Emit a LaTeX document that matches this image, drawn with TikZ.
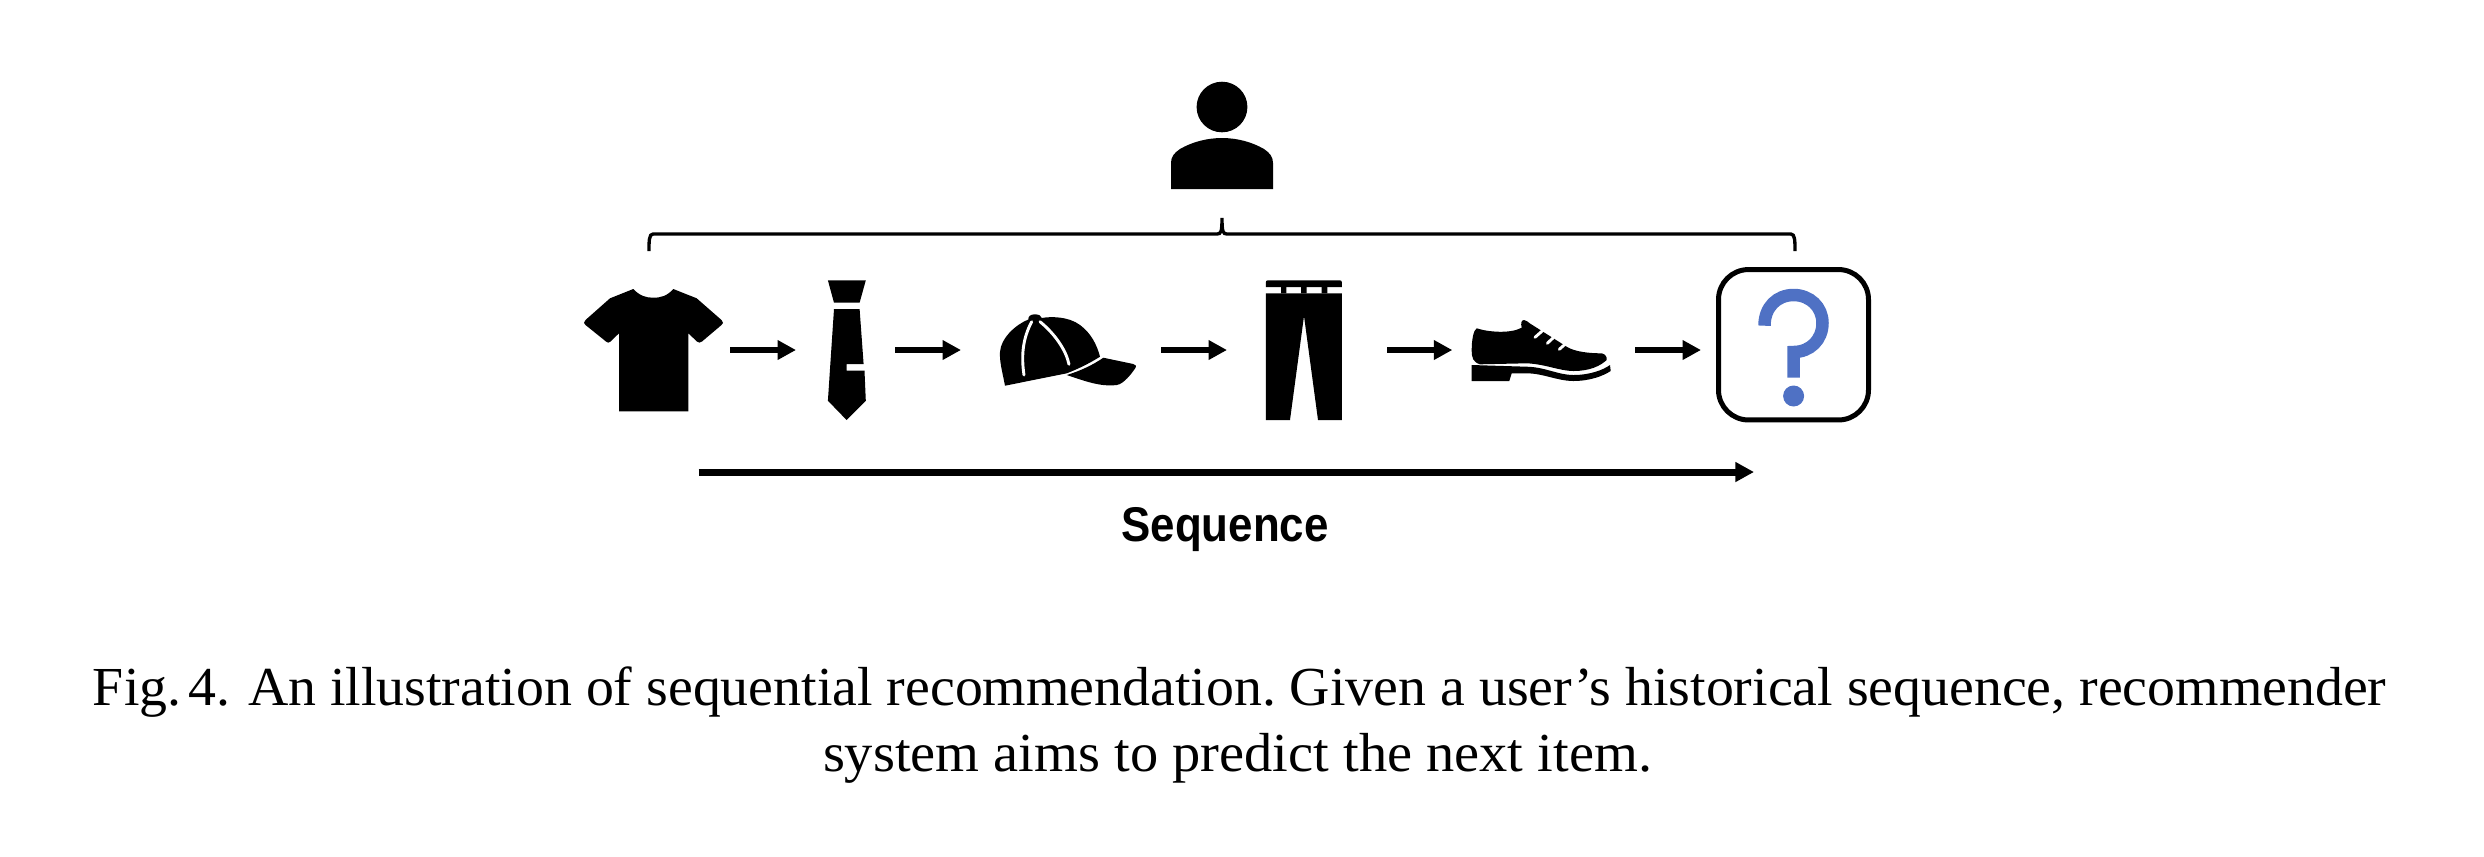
\documentclass[tikz,border=0pt]{standalone}
\usepackage{fontspec}
\usetikzlibrary{arrows.meta,fit}
\setmainfont{Liberation Serif}
\newfontfamily\capfont[FakeStretch=1.015]{Liberation Serif}
\newfontfamily\capfontb[FakeStretch=1.026]{Liberation Serif}
\newfontfamily\seqfont[FakeStretch=0.9]{Liberation Sans}
\definecolor{qblue}{HTML}{4F71C4}
\frenchspacing
\tikzset{
  slot/.style={inner sep=0pt,outer sep=0pt},
  glyph/.style={fill=black,draw=none},
  cutline/.style={draw=white,line width=0.7pt,line cap=round},
  flowarrow/.style={line width=1.6pt,-{Triangle[length=4.44pt,width=4.5pt]}},
  seqarrow/.style={line width=1.68pt,-{Triangle[length=4.5pt,width=4.56pt]}},
  bracket/.style={draw=black,line width=0.8pt},
  qboxstyle/.style={draw=black,line width=1.2pt,rounded corners=7.2pt,minimum width=36pt,minimum height=36.1pt,inner sep=0pt,outer sep=0pt},
  captext/.style={anchor=base west,inner sep=0pt,outer sep=0pt},
}
\begin{document}
\begin{tikzpicture}[x=0.24pt,y=-0.24pt]
\useasboundingbox (0,0) rectangle (2484,856);
% person
\fill[glyph] (1222,107) ellipse [x radius=25.4,y radius=25.3];
\fill[glyph] (1171,189) -- (1171,163) .. controls (1171,157) and (1174,153) .. (1180,149) .. controls (1192,142) and (1207,138) .. (1222,138) .. controls (1237,138) and (1252,142) .. (1264,149) .. controls (1270,153) and (1273,157) .. (1273,163) -- (1273,189) -- cycle;
% bracket
\draw[bracket] (649,251) .. controls (649,241) and (649,234) .. (653,234) -- (1217,234) .. controls (1221,234) and (1222,232) .. (1222,218) .. controls (1222,232) and (1223,234) .. (1227,234) -- (1791,234) .. controls (1795,234) and (1795,241) .. (1795,251);
% slots for the items
\node[slot,fit={(584,280) (730,420)}] (shirt) {};
\node[slot,fit={(796,280) (895,420)}] (tie) {};
\node[slot,fit={(961,280) (1161,420)}] (cap) {};
\node[slot,fit={(1227,280) (1387,420)}] (pants) {};
\node[slot,fit={(1452.3,280) (1635,420)}] (shoe) {};
\node[qboxstyle] (next) at (1793.5,344.75) {};
% shirt
\fill[glyph] (633.3,289) .. controls (640,296) and (646,297.7) .. (653.3,297.7) .. controls (661,297.7) and (667,296) .. (673.3,289) -- (696.7,298.3) -- (721.5,320) .. controls (723.5,322) and (723.5,324) .. (721.5,325) -- (702,341.5) .. controls (700,343) and (698.5,343) .. (697,341.5) -- (688.3,333.3) -- (688.3,411.3) -- (619,411.3) -- (619,333.3) -- (610.5,341.5) .. controls (609,343) and (607.5,343) .. (606,341.5) -- (585.5,325) .. controls (583.5,324) and (583.5,322) .. (585.5,320) -- (610,298.3) -- cycle;
% tie
\fill[glyph] (827.9,280.3) -- (865.8,280.3) -- (859.6,302.7) -- (834,302.7) -- cycle;
\fill[glyph] (834,309) -- (859.6,309) -- (863.6,364) -- (846.6,364) -- (846.6,370.7) -- (864.5,370.7) -- (865.8,400.7) -- (846.6,420) -- (827.9,400.7) -- cycle;
% cap
\fill[glyph] (1005,385.7) .. controls (1002,370) and (999.5,362) .. (1000,352) .. controls (1001,338) and (1015,325) .. (1028.3,319.5) .. controls (1028,316) and (1031,314.3) .. (1035,314.3) .. controls (1039,314.3) and (1041.5,316) .. (1041.7,318) .. controls (1050,316.5) and (1068,316) .. (1080,325) .. controls (1091,333) and (1097,345) .. (1100,356.7) .. controls (1090,363) and (1078,369) .. (1066.7,373.3) -- cycle;
\fill[glyph] (1103.3,357.7) -- (1133.3,364) .. controls (1136,365) and (1136.5,366) .. (1135.7,367.5) .. controls (1132,373) and (1124,384) .. (1116.7,385) .. controls (1100,387) and (1085,381) .. (1066.7,375) .. controls (1080,371) and (1093,365) .. (1103.3,357.7) -- cycle;
\draw[cutline] (1024,375) .. controls (1021,355) and (1023,338) .. (1031.7,321.7);
\draw[cutline] (1040,321.7) .. controls (1055,334) and (1066,350) .. (1069,364.3);
% pants
\fill[glyph] (1265.8,287) -- (1265.8,282.5) .. controls (1265.8,281) and (1266.5,280.3) .. (1268,280.3) -- (1339.7,280.3) .. controls (1341.2,280.3) and (1341.9,281) .. (1341.9,282.5) -- (1341.9,287) -- cycle;
\fill[glyph] (1265.8,293.3) -- (1341.9,293.3) -- (1341.9,420) -- (1318,420) -- (1304,316) -- (1290,420) -- (1265.8,420) -- cycle;
\fill[glyph] (1281,287) rectangle (1286.3,293.3) (1301,287) rectangle (1306.7,293.3) (1321.7,287) rectangle (1327.3,293.3);
% shoe
\fill[glyph] (1476.7,328.3) .. controls (1488,332) and (1510,334) .. (1521.7,327.7) .. controls (1520.5,323) and (1521.5,320) .. (1524,320) .. controls (1526,320) and (1528,322) .. (1530,323.5) -- (1566.7,346.7) .. controls (1575,352) and (1590,353.3) .. (1601.7,353.3) .. controls (1605,354) and (1607.5,357) .. (1606.7,360) .. controls (1600,366) and (1590,371) .. (1573.3,371) .. controls (1560,371) and (1545,364) .. (1526.7,363.3) -- (1480,364.3) .. controls (1473,362) and (1471.7,358) .. (1471.7,350) .. controls (1471.7,340) and (1473.5,330) .. (1476.7,328.3) -- cycle;
\fill[glyph] (1471.7,365) -- (1526.7,366.7) .. controls (1545,367) and (1558,375) .. (1573.3,375) .. controls (1590,375) and (1603,370) .. (1610,365) -- (1610.7,371) .. controls (1603,376) and (1590,381) .. (1573,381) .. controls (1558,381) and (1543,373.3) .. (1526.7,373.3) -- (1511.7,373.3) -- (1509.3,381) -- (1471.7,381) -- cycle;
\draw[cutline] (1535,337.3) -- (1543.3,330) (1547.3,343.3) -- (1553.3,337.7) (1559.3,349.3) -- (1565,344.3);
% question mark
\draw[qblue,line width=3pt] (1764.5,325.7) .. controls (1764.5,307) and (1777,295) .. (1793.6,295) .. controls (1810,295) and (1822.5,307) .. (1822.5,323) .. controls (1822.5,340) and (1810,352) .. (1793.6,352) -- (1793.6,377.7);
\fill[qblue] (1793.6,396) ellipse [x radius=10.5,y radius=10.5];
% flow arrows
\draw[flowarrow] (shirt.east) -- (tie.west);
\draw[flowarrow] (tie.east) -- (cap.west);
\draw[flowarrow] (cap.east) -- (pants.west);
\draw[flowarrow] (pants.east) -- (shoe.west);
\draw[flowarrow,shorten >=4.2pt] (shoe.east) -- (next.west |- shoe.east);
% sequence arrow
\coordinate (seqstart) at (698.6,472);
\coordinate (seqend) at (1754,472);
\draw[seqarrow] (seqstart) -- (seqend);
\node[anchor=base west,inner sep=0pt,outer sep=0pt,font=\fontsize{11.7pt}{14pt}\seqfont\bfseries] (seqlabel) at (1121.5,541) {Sequence};
% caption
\node[captext,font=\fontsize{13.2pt}{15pt}\capfont] (cap1) at (93,705.7) {Fig.\hspace{0.13em}4.\hspace{0.32em}An illustration of sequential recommendation. Given a user’s historical sequence, recommender};
\node[captext,font=\fontsize{13.2pt}{15pt}\capfontb] (cap2) at (823,771.7) {system aims to predict the next item.};
\end{tikzpicture}
\end{document}
